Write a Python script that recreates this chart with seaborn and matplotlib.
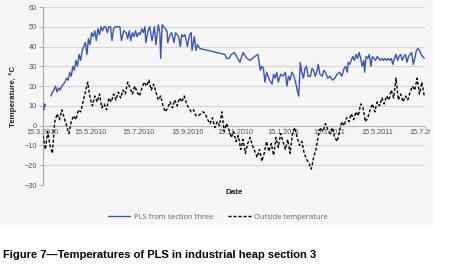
import numpy as np
import pandas as pd
import matplotlib
matplotlib.use('Agg')
import matplotlib.pyplot as plt
from matplotlib.lines import Line2D
from matplotlib.patches import Rectangle
from matplotlib.transforms import Bbox, TransformedBbox
import seaborn as sns

start = pd.Timestamp('2010-03-15')

# PLS temperature, day offset from 15.3.2010 (NaN marks a gap in the record)
pls_day = [0, 1, 2, 3, 6,
           10, 12, 14, 16, 18, 20, 22, 24, 26, 28, 30, 32, 34, 36, 38, 40, 42, 44, 46, 48,
           50, 52, 54, 56, 58, 60, 62, 64, 66, 68, 70, 72, 74, 76, 78, 80, 82, 84, 86, 88,
           90, 92, 94, 96, 98, 100, 103, 106, 108, 110, 112, 114, 116, 118, 120, 122, 124,
           126, 128, 130, 131, 134, 136, 139, 142, 144, 147, 149, 150, 152, 154, 156, 158,
           159, 162, 164, 167, 169, 171, 173, 175, 177, 179, 181, 184, 185, 187, 189, 190,
           193, 195, 197, 200, 232, 234, 237, 240, 244, 251, 255, 260, 264, 270, 274, 277,
           279, 281, 283, 285, 287, 289, 292, 294, 296, 298, 300, 303, 306, 309, 311, 313,
           315, 317, 319, 322, 324, 326, 328, 330, 332, 334, 336, 338, 341, 343, 345, 347,
           349, 351, 353, 356, 358, 360, 363, 366, 369, 372, 375, 378, 381, 384, 386, 388,
           389, 391, 393, 395, 397, 399, 401, 403, 405, 407, 409, 410, 412, 414, 416, 418,
           420, 422, 424, 426, 428, 430, 432, 434, 436, 438, 440, 442, 444, 446, 448, 450,
           452, 454, 456, 458, 460, 462, 464, 466, 468, 470, 472, 474, 476, 478, 480, 482,
           484, 486]
pls_temp = [9, 8, 11, 10, np.nan,
            15, 17, 18, 20, 17, 19, 18, 20, 21, 22, 24, 23, 27, 25, 30, 28, 33, 30, 36, 33,
            38, 40, 42, 36, 44, 41, 47, 45, 48, 43, 49, 46, 50, 48, 50, 50, 47, 50, 50, 43,
            49, 50, 50, 50, 50, 43, 48, 47, 44, 48, 43, 47, 45, 48, 45, 47, 46,
            49, 47, 50, 42, 48, 50, 43, 50, 41, 51, 47, 34, 51, 50, 49, 48,
            42, 46, 47, 42, 47, 46, 45, 40, 46, 45, 46, 40, 42, 46, 47, 38,
            45, 38, 41, 39, 36, 34, 34, 36, 37, 32, 37, 34, 33, 35, 36, 28,
            30, 29, 22, 27, 25, 23, 21, 26, 24, 27, 22, 26, 25, 27, 20, 25,
            23, 27, 26, 22, 18, 15, 32, 27, 24, 29, 30, 25, 25, 29, 28, 25,
            27, 31, 26, 25, 28, 27, 24, 25, 23, 24, 26, 27, 25, 29, 30, 27,
            32, 31, 33, 35, 33, 36, 34, 37, 34, 30, 33, 27, 35, 34, 36, 30,
            35, 34, 33, 35, 34, 33, 34, 33, 34, 33, 34, 33, 34, 31, 34, 36,
            33, 35, 36, 33, 35, 36, 32, 35, 36, 37, 31, 34, 38, 39, 38, 36,
            35, 34]

# outside air temperature, one reading every third day from 15.3.2010
out_step = 3
out_temp = [-5, -12, -3, -10, -14, 2, 6, 3, 8, 4, 0, -4, 2, 5, 3, 8, 7, 12, 17, 22,
            14, 10, 15, 12, 16, 9, 11, 8, 14, 12, 16, 13, 17, 14, 18, 16, 22, 19, 16, 20,
            17, 15, 19, 22, 20, 23, 18, 21, 17, 13, 15, 10, 7, 9, 12, 9, 13, 10, 14, 12,
            15, 11, 9, 7, 8, 5, 5, 6, 7, 6, 3, 1, 4, -1, 2, 0, 7, -3, 1, -2,
            -6, -3, -8, -5, -12, -7, -14, -9, -6, -10, -13, -16, -12, -18, -14, -8, -13, -9, -15, -6,
            -11, -4, -8, -12, -7, -14, -4, -1, -6, -10, -8, -14, -17, -19, -22, -16, -12, -5, -1, -3,
            1, -2, -4, -1, -6, -8, -3, 2, 0, 4, 2, 6, 3, 7, 5, 11, 9, 2, 4, 8,
            11, 7, 12, 10, 14, 11, 15, 13, 18, 14, 24, 13, 16, 12, 15, 13, 17, 20, 18, 24,
            16, 22, 15]

tick_dates = ['2010-03-15', '2010-05-15', '2010-07-15', '2010-09-15', '2010-11-15',
              '2011-01-15', '2011-03-15', '2011-05-15', '2011-07-15']
tick_labels = ['15.3.2010', '15.5.2010', '15.7.2010', '15.9.2010', '15.11.2010',
               '15.1.2011', '15.3.2011', '15.5.2011', '15.7.2011']

pls = pd.DataFrame({'day': pls_day, 'temp': pls_temp})
pls['seg'] = pls['temp'].isna().cumsum()
pls = pls.dropna()
pls['date'] = start + pd.to_timedelta(pls['day'], unit='D')

out = pd.DataFrame({'temp': out_temp})
out['date'] = start + pd.to_timedelta(np.arange(len(out_temp)) * out_step, unit='D')

sns.set_style('white')
plt.rcParams['font.family'] = ['Liberation Sans', 'DejaVu Sans']

fig = plt.figure(figsize=(4.49, 2.76), dpi=100)
fig.patch.set_facecolor('white')
fig.patches.append(Rectangle((0, 1 - 225 / 276), 433 / 449, 225 / 276, transform=fig.transFigure,
                             facecolor='#f6f6f6', edgecolor='none', zorder=-10))

ax = fig.add_axes([43 / 449, 1 - 185 / 276, 382 / 449, 178 / 276])
ax.set_facecolor('none')

sns.lineplot(data=pls, x='date', y='temp', units='seg', estimator=None,
             color='#3c55b0', linewidth=1.0, ax=ax, zorder=3)
sns.lineplot(data=out, x='date', y='temp', color='black', linewidth=1.0,
             linestyle=(0, (2.2, 1.4)), ax=ax, zorder=3)

ax.set_ylim(-30, 60)
ax.set_yticks(range(-30, 61, 10))
ax.set_xlim(pd.Timestamp(tick_dates[0]), pd.Timestamp(tick_dates[-1]))
ax.set_xticks([pd.Timestamp(d) for d in tick_dates])
ax.set_xticklabels(tick_labels)

ax.grid(axis='y', color='#d6d6d6', linewidth=0.8)
ax.set_axisbelow(True)
for s in ['top', 'right']:
    ax.spines[s].set_visible(False)
ax.spines['left'].set_color('#a8a8a8')
ax.spines['left'].set_linewidth(0.8)
ax.spines['bottom'].set_position(('data', 0))
ax.spines['bottom'].set_color('#b8b8b8')
ax.spines['bottom'].set_linewidth(0.8)

ax.tick_params(axis='y', left=True, length=3, width=0.6, color='#a8a8a8', pad=1.5,
               labelsize=5.3, labelcolor='#505050')
ax.tick_params(axis='x', bottom=True, length=1.5, width=0.6, color='#b8b8b8', pad=1,
               labelsize=5.2, labelcolor='#505050')

clip = TransformedBbox(Bbox([[0, 0], [430 / 449, 1]]), fig.transFigure)
for lbl in ax.get_xticklabels():
    lbl.set_clip_box(clip)
    lbl.set_clip_on(True)

ax.set_xlabel('Date', fontsize=5.8, fontweight='bold', color='#222222')
ax.xaxis.set_label_coords(0.5, -0.02)
ax.set_ylabel('Temperature, °C', fontsize=5.8, fontweight='bold', color='#222222')
ax.yaxis.set_label_coords(-0.068, 0.5)

handles = [Line2D([], [], color='#3c55b0', linewidth=1.0),
           Line2D([], [], color='black', linewidth=1.0, linestyle=(0, (2.2, 1.4)))]
fig.legend(handles, ['PLS from section three', 'Outside temperature'],
           loc='center', bbox_to_anchor=(218 / 449, 1 - 217 / 276), ncol=2, frameon=False,
           prop={'family': 'Open Sans', 'size': 5.4}, labelcolor='#606060',
           handlelength=3.0, handletextpad=0.5, columnspacing=2.0)

fig.text(3 / 449, 1 - 255 / 276, 'Figure 7\u2014Temperatures of PLS in industrial heap section 3',
         fontsize=8.0, fontweight='bold', va='center', ha='left', color='black')

fig.savefig('out.png', dpi=100)
